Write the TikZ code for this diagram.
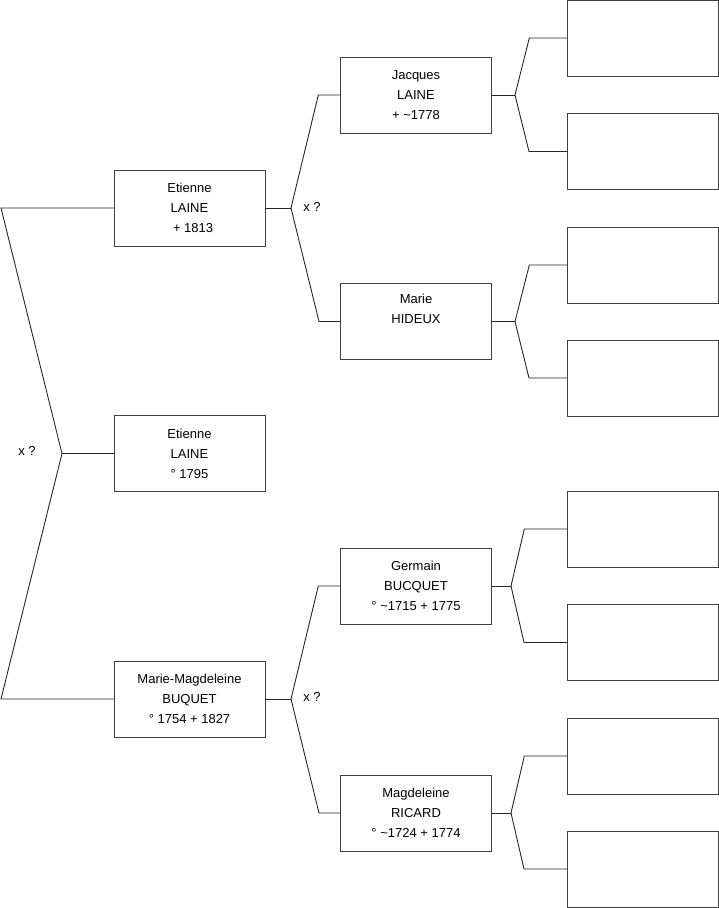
\documentclass[tikz,border=0pt]{standalone}
\usepackage{fontspec}
\setmainfont{Liberation Sans}
\usepackage{tikz}
\usetikzlibrary{positioning}
\tikzset{
    person/.style={rectangle, draw=black!75, fill=white, minimum width=151pt, minimum height=76pt, align=center, inner sep=0pt, font=\fontsize{13}{20}\selectfont},
    empty/.style={rectangle, draw=black!75, fill=white, minimum width=151pt, minimum height=76pt, inner sep=0pt},
    link/.style={draw=black!85, line width=0.9pt},
    union/.style={font=\fontsize{13}{16}\selectfont, inner sep=0pt},
}

\begin{document}
\begin{tikzpicture}[x=1pt, y=-1pt]
    \useasboundingbox (0,0) rectangle (719,908);

    % Generation 1
    \node[person] (e0) at (189.5,453.5) {Etienne\\LAINE\\° 1795};

    % Generation 2
    \node[person] (e1) at (189.5,208) {Etienne\\LAINE\\\ \ + 1813};
    \node[person] (mm) at (189.5,699) {Marie-Magdeleine\\BUQUET\\° 1754 + 1827};

    % Generation 3
    \node[person] (jl) at (416,95) {Jacques\\LAINE\\+ \textasciitilde1778};
    \node[person] (mh) at (416,321.5) {Marie\\HIDEUX\\\strut};
    \node[person] (gb) at (416,586) {Germain\\BUCQUET\\° \textasciitilde1715 + 1775};
    \node[person] (mr) at (416,813) {Magdeleine\\RICARD\\° \textasciitilde1724 + 1774};

    % Generation 4 (unknown)
    \foreach \i/\y in {1/38, 2/151.5, 3/265, 4/378, 5/529, 6/642.5, 7/756, 8/869}
        \node[empty] (u\i) at (643,\y) {};

    % Unions
    \node[union] (x0) at (27,451) {x ?};
    \node[union] (x1) at (312,207) {x ?};
    \node[union] (x2) at (312,697) {x ?};

    % Fork points
    \coordinate (f0) at (62,453.5);
    \coordinate (a0) at (1,208);
    \coordinate (b0) at (1,699);
    \coordinate (f1) at (291,208);
    \coordinate (f2) at (291,699);
    \coordinate (f3) at (515,95);
    \coordinate (f4) at (515,321.5);
    \coordinate (f5) at (511,586);
    \coordinate (f6) at (511,813);

    % Connectors
    \draw[link] (e1.west) -- (a0) -- (f0) -- (b0) -- (mm.west);
    \draw[link] (f0) -- (e0.west);

    \draw[link] (e1.east) -- (f1);
    \draw[link] (jl.west) -- ++(-22,0) -- (f1) -- (mh.west -| 319,0) -- (mh.west);
    \draw[link] (mm.east) -- (f2);
    \draw[link] (gb.west) -- ++(-22,0) -- (f2) -- (mr.west -| 319,0) -- (mr.west);

    \draw[link] (jl.east) -- (f3);
    \draw[link] (u1.west) -- ++(-38,0) -- (f3) -- (u2.west -| 529,0) -- (u2.west);
    \draw[link] (mh.east) -- (f4);
    \draw[link] (u3.west) -- ++(-38,0) -- (f4) -- (u4.west -| 529,0) -- (u4.west);
    \draw[link] (gb.east) -- (f5);
    \draw[link] (u5.west) -- ++(-43,0) -- (f5) -- (u6.west -| 524,0) -- (u6.west);
    \draw[link] (mr.east) -- (f6);
    \draw[link] (u7.west) -- ++(-43,0) -- (f6) -- (u8.west -| 524,0) -- (u8.west);
\end{tikzpicture}
\end{document}
